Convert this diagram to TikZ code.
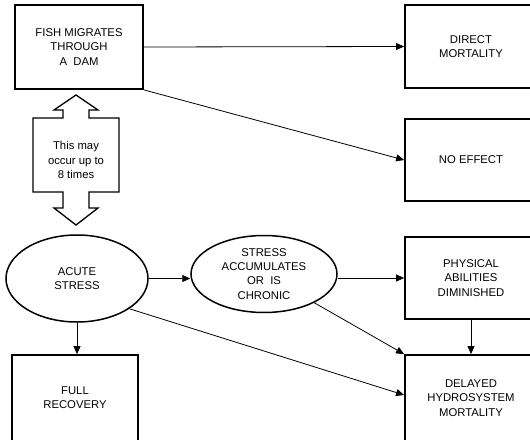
\documentclass[tikz,border=0pt]{standalone}
\usepackage{fontspec}
\setmainfont{Liberation Sans}
\usetikzlibrary{arrows.meta, shapes.geometric}

\begin{document}
\begin{tikzpicture}[x=1pt, y=-1pt,
	every node/.style={font=\fontsize{11.3}{14.2}\selectfont, align=center, inner sep=0pt},
	stagebox/.style={shape=rectangle, draw=black, line width=1.8pt},
	stateoval/.style={shape=ellipse, draw=black, line width=1.5pt},
	flow/.style={draw=black, line width=0.8pt, -{Triangle[length=8pt, width=7pt]}}]
	\useasboundingbox (0,0) rectangle (530,439);
	\node [stagebox, minimum width=128pt, minimum height=84pt]%
				(fish) at (79,47) {FISH MIGRATES\\THROUGH\\A\ \ DAM};
	\node [stagebox, minimum width=132pt, minimum height=83pt]%
				(direct) at (471,46.5) {DIRECT\\MORTALITY};
	\node [stagebox, minimum width=132pt, minimum height=82pt]%
				(noeff) at (471,160) {NO EFFECT};
	\node [stateoval, minimum width=142pt, minimum height=87pt]%
				(acute) at (77,278.5) {ACUTE\\STRESS};
	\node [stateoval, minimum width=146pt, minimum height=77pt]%
				(accum) at (264,274) {STRESS\\ACCUMULATES\\OR\ \ IS\\CHRONIC};
	\node [stagebox, minimum width=132pt, minimum height=82pt]%
				(phys) at (471,278) {PHYSICAL\\ABILITIES\\DIMINISHED};
	\node [stagebox, minimum width=132pt, minimum height=86pt]%
				(delayed) at (471,398) {DELAYED\\HYDROSYSTEM\\MORTALITY};
	\node [stagebox, minimum width=126pt, minimum height=86pt]%
				(full) at (75,398) {FULL\\RECOVERY};
	\draw [line width=1.3pt] (76,95) -- (98,110) -- (89,110) -- (89,118) -- (119,118)
		-- (119,192) -- (89,192) -- (89,208) -- (98,208) -- (76,225) -- (54,208)
		-- (63,208) -- (63,192) -- (33,192) -- (33,118) -- (63,118) -- (63,110)
		-- (54,110) -- cycle;
	\node (repeat) at (76,160) {This may\\occur up to\\8 times};
	\draw [flow] (fish.east) -- (direct.west);
	\draw [flow] (fish.south east) -- (noeff.west);
	\draw [flow] (acute.east) -- (acute.east -| accum.west);
	\draw [flow] (accum.east |- phys.west) -- (phys.west);
	\draw [flow] (phys) -- (delayed);
	\draw [flow] (accum) -- (delayed.north west);
	\draw [flow] (acute.-30) -- ([yshift=3pt]delayed.west);
	\draw [flow] (acute.south) -- (acute.south |- full.north);
\end{tikzpicture}
\end{document}
